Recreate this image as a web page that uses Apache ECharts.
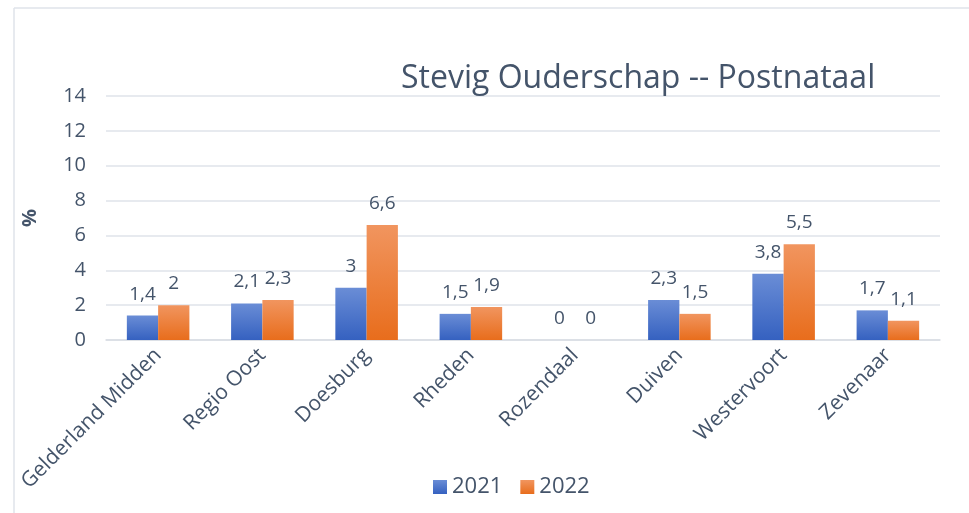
<!DOCTYPE html>
<html lang="nl">
<head>
  <meta charset="UTF-8">
  <title>Stevig Ouderschap -- Postnataal</title>
  <style>
    html, body { margin: 0; padding: 0; background: #fff; }
  </style>
</head>
<body>
<div id="main" style="width:969px; height:513px;"></div>
<script src="https://cdn.jsdelivr.net/npm/echarts@6/dist/echarts.min.js"></script>
<script>
  // data
  var regios = ['Gelderland Midden', 'Regio Oost', 'Doesburg', 'Rheden', 'Rozendaal', 'Duiven', 'Westervoort', 'Zevenaar'];
  var jaren = ['2021', '2022'];
  var waarden2021 = [1.4, 2.1, 3, 1.5, 0, 2.3, 3.8, 1.7];
  var waarden2022 = [2, 2.3, 6.6, 1.9, 0, 1.5, 5.5, 1.1];

  var tekstKleur = '#44546a';
  var font = '"Open Sans", "Noto Sans", sans-serif';

  function verloop(top, bodem) {
    return new echarts.graphic.LinearGradient(0, 0, 0, 1, [
      { offset: 0, color: top },
      { offset: 1, color: bodem }
    ]);
  }

  var labelStijl = {
    show: true,
    position: 'top',
    distance: 12,
    color: tekstKleur,
    fontSize: 19,
    fontFamily: font,
    formatter: function (p) { return String(p.value).replace('.', ','); }
  };

  var chart = echarts.init(document.getElementById('main'));
  var option = {
    animation: false,
    backgroundColor: '#fff',
    textStyle: { fontFamily: font },
    title: {
      text: 'Stevig Ouderschap -- Postnataal',
      left: 396,
      top: 58,
      textStyle: { color: tekstKleur, fontSize: 32, fontWeight: 'normal', fontFamily: font }
    },
    legend: {
      bottom: 10,
      left: 428,
      itemWidth: 14,
      itemHeight: 14,
      itemGap: 18,
      icon: 'rect',
      textStyle: { color: tekstKleur, fontSize: 22, fontFamily: font },
      data: jaren
    },
    graphic: [
      { type: 'line', shape: { x1: 14, y1: 8, x2: 969, y2: 8 }, style: { stroke: '#dfe3ea', lineWidth: 1.5 } },
      { type: 'line', shape: { x1: 14, y1: 8, x2: 14, y2: 513 }, style: { stroke: '#dfe3ea', lineWidth: 1.5 } }
    ],
    grid: { left: 106, right: 29, top: 96, bottom: 173 },
    xAxis: {
      type: 'category',
      data: regios,
      axisLine: { lineStyle: { color: '#d9dde4', width: 1.5 } },
      axisTick: { show: false },
      axisLabel: { rotate: 45, color: tekstKleur, fontSize: 21, fontFamily: font, margin: 12, interval: 0 }
    },
    yAxis: {
      type: 'value',
      min: 0,
      max: 14,
      interval: 2,
      name: '%',
      nameLocation: 'middle',
      nameRotate: 90,
      nameGap: 66,
      nameTextStyle: { color: tekstKleur, fontSize: 20, fontWeight: 'bold', fontFamily: font },
      axisLine: { show: false },
      axisTick: { show: false },
      axisLabel: { color: tekstKleur, fontSize: 20, fontFamily: font, margin: 20 },
      splitLine: { lineStyle: { color: '#dfe3ea', width: 1.5 } }
    },
    series: [
      {
        name: jaren[0],
        type: 'bar',
        data: waarden2021,
        barGap: '0%',
        barCategoryGap: '40%',
        itemStyle: { color: verloop('#6a8dd6', '#3561c0') },
        label: labelStijl
      },
      {
        name: jaren[1],
        type: 'bar',
        data: waarden2022,
        barGap: '0%',
        barCategoryGap: '40%',
        itemStyle: { color: verloop('#f1955f', '#e86d1c') },
        label: labelStijl
      }
    ]
  };
  chart.setOption(option);
</script>
</body>
</html>
